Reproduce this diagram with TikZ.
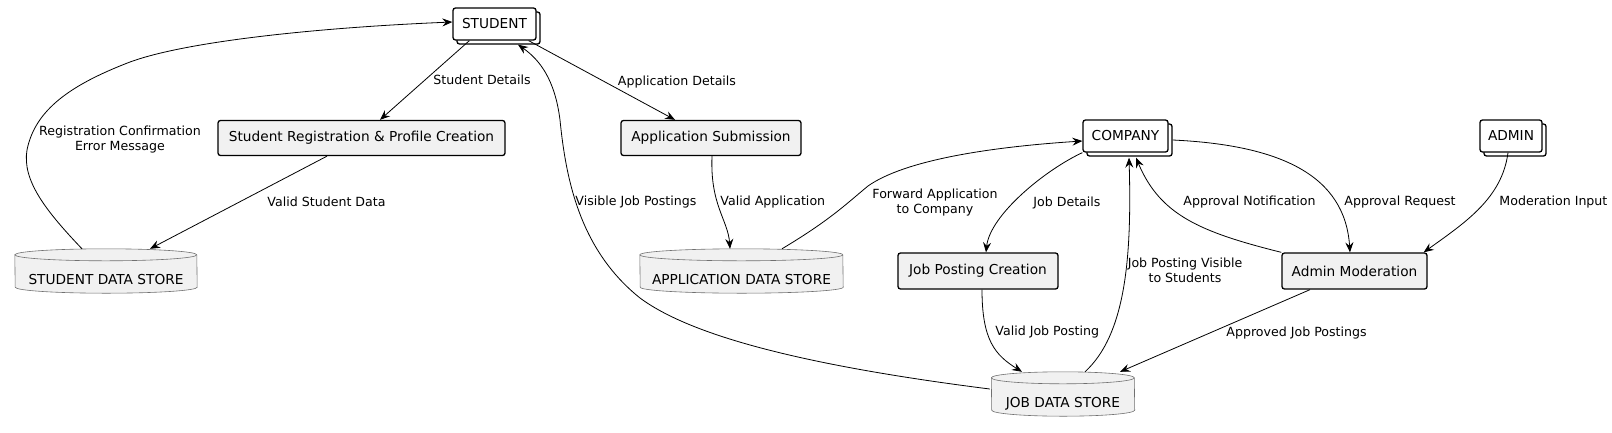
\documentclass[tikz,border=0pt]{standalone}
\usepackage{fontspec}
\setmainfont{DejaVu Sans}
\usetikzlibrary{arrows.meta,shadows,calc,backgrounds}
\definecolor{boxfill}{HTML}{F1F1F1}
\definecolor{storeline}{HTML}{707070}
\newcommand\storeshape[2]{%
  \path[fill=boxfill, draw=storeline, line width=0.6pt]
    ($(#1.north west)+(0,6)$) arc[start angle=180, end angle=0, x radius=#2pt, y radius=6pt]
    -- ($(#1.south east)+(0,-6)$) arc[start angle=0, end angle=-180, x radius=#2pt, y radius=6pt] -- cycle;
  \draw[storeline, line width=0.6pt] ($(#1.north west)+(0,6)$) arc[start angle=180, end angle=360, x radius=#2pt, y radius=6pt];
}
\begin{document}
\begin{tikzpicture}[x=1pt,y=-1pt,
  nfont/.style={font=\fontsize{13.7}{16}\selectfont},
  actor/.style={nfont, draw=black, fill=white, line width=1.3pt, rounded corners=2.5pt, inner sep=0pt,
    copy shadow={shadow xshift=4pt, shadow yshift=-4pt}},
  proc/.style={nfont, draw=black, fill=boxfill, line width=1.3pt, rounded corners=2.5pt, inner sep=0pt},
  store/.style={nfont, inner sep=0pt, text height=26pt, text depth=0pt},
  flow/.style={draw=black, line width=0.8pt, -{Stealth[length=10pt,width=8pt,inset=3.5pt]}},
  lbl/.style={font=\fontsize{12.6}{15}\selectfont, align=center, inner sep=0pt, text=black}
]
\useasboundingbox (0,0) rectangle (1612,432);

\node[actor, minimum width=83pt, minimum height=32pt] (STUDENT) at (494.5,24) {STUDENT};
\node[proc, minimum width=287pt, minimum height=35pt] (SR) at (361.5,138) {Student Registration \& Profile Creation};
\node[proc, minimum width=180pt, minimum height=35pt] (AS) at (711,138) {Application Submission};
\node[store, minimum width=182pt, minimum height=44pt] (SDS) at (106,271) {STUDENT DATA STORE};
\node[store, minimum width=203pt, minimum height=44pt] (ADS) at (741.5,271) {APPLICATION DATA STORE};
\node[actor, minimum width=85pt, minimum height=32pt] (COMPANY) at (1125.5,136) {COMPANY};
\node[actor, minimum width=62pt, minimum height=32pt] (ADMIN) at (1511,136) {ADMIN};
\node[proc, minimum width=160pt, minimum height=36pt] (JPC) at (978,271) {Job Posting Creation};
\node[proc, minimum width=145pt, minimum height=36pt] (AM) at (1354.5,271) {Admin Moderation};
\node[store, minimum width=143pt, minimum height=44pt] (JDS) at (1063,394) {JOB DATA STORE};

\begin{pgfonlayer}{background}
\storeshape{SDS}{91}
\storeshape{ADS}{101.5}
\storeshape{JDS}{71.5}
\end{pgfonlayer}

\draw[flow] ($(STUDENT.south west)+(17,0)$) -- ($(SR.north)+(18.5,0)$)
  node[lbl, anchor=west] at (433,80) {Student Details};
\draw[flow] ($(STUDENT.south east)+(-8,0)$) -- ($(AS.north)+(-36,0)$)
  node[lbl] at (677,82) {Application Details};
\draw[flow] ($(SDS.north)+(-24,0)$) .. controls (45,210) and (22,180) .. (27,150)
  .. controls (35,110) and (70,85) .. (130,62)
  .. controls (190,40) and (330,27) .. ($(STUDENT.west)+(0,-2)$)
  node[lbl] at (120,139.5) {Registration Confirmation\\Error Message};
\draw[flow] ($(SR.south)+(-34.5,0)$) -- ($(SDS.north)+(44,0)$)
  node[lbl] at (326.5,202) {Valid Student Data};
\draw[flow] ($(AS.south)+(1,0)$) .. controls (710,205) and (728,220) .. ($(ADS.north)+(-11.5,0)$)
  node[lbl, anchor=west] at (720,202) {Valid Application};
\draw[flow] ($(ADS.north)+(40.5,0)$) .. controls (830,220) and (845,205) .. (868,186)
  .. controls (905,160) and (990,147) .. ($(COMPANY.west)+(0,5)$)
  node[lbl] at (935,203) {Forward Application\\to Company};
\draw[flow] (COMPANY.south west) .. controls (1045,170) and (990,215) .. ($(JPC.north)+(8,0)$)
  node[lbl, anchor=west] at (1033,203) {Job Details};
\draw[flow] ($(JPC.south)+(4,0)$) .. controls (982,340) and (995,355) .. ($(JDS.north)+(-41,0)$)
  node[lbl, anchor=west] at (995,332) {Valid Job Posting};
\draw[flow] ($(JDS.north)+(22,0)$) .. controls (1125,335) and (1132,260) .. ($(COMPANY.south)+(3.5,5)$)
  node[lbl] at (1185,270.5) {Job Posting Visible\\to Students};
\draw[flow] (AM.north west) .. controls (1200,232) and (1160,215) .. ($(COMPANY.south)+(10.5,5)$)
  node[lbl, anchor=west] at (1183,202) {Approval Notification};
\draw[flow] ($(COMPANY.east)+(4,4)$) .. controls (1280,145) and (1345,175) .. ($(AM.north)+(-4.5,0)$)
  node[lbl, anchor=west] at (1344,202) {Approval Request};
\draw[flow] ($(ADMIN.south)+(-3,0)$) .. controls (1502,198) and (1466,222) .. ($(AM.north east)+(-4,0)$)
  node[lbl, anchor=west] at (1499,202) {Moderation Input};
\draw[flow] ($(AM.south)+(-44.5,0)$) -- ($(JDS.north)+(57,0)$)
  node[lbl, anchor=west] at (1226,333) {Approved Job Postings};
\draw[flow] ($(JDS.west)+(-1.5,-5)$) .. controls (800,365) and (690,335) .. (640,298)
  .. controls (580,250) and (566,180) .. (560,120)
  .. controls (555,80) and (540,60) .. ($(STUDENT.south)+(23.5,4)$)
  node[lbl, anchor=west] at (575,202) {Visible Job Postings};
\end{tikzpicture}
\end{document}
